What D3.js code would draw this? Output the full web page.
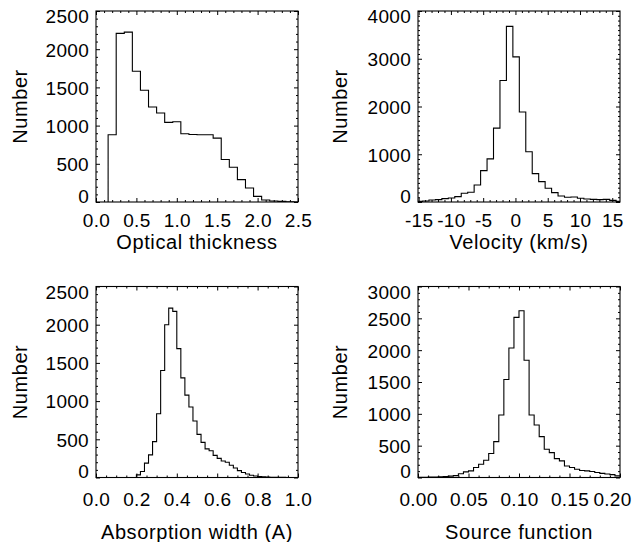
<!DOCTYPE html>
<html>
<head>
<meta charset="utf-8">
<script src="https://cdn.jsdelivr.net/npm/d3@7"></script>
<style>
body { margin: 0; background: #fff; }
svg text { font-family: "Liberation Sans", Arial, Helvetica, sans-serif; fill: #000; }
</style>
</head>
<body>
<svg id="chart" width="636" height="542"></svg>
<script>
// optical thickness, bins of 0.1 starting at 0.15
var tauStart = 0.15, tauBin = 0.1;
var tauCounts = [880, 2207, 2224, 1712, 1462, 1243, 1165, 1042, 1051, 893, 884, 880, 880, 836,
                 556, 455, 293, 184, 74, 26, 13, 8, 4, 0];
var tauXTicks = [0, 0.5, 1.0, 1.5, 2.0, 2.5];
var tauXLabels = ["0.0", "0.5", "1.0", "1.5", "2.0", "2.5"];
var tauYTicks = [0, 500, 1000, 1500, 2000, 2500];

// velocity, bins of 1 km/s starting at -15.4
var velStart = -15.4, velBin = 1;
var velCounts = [14, 21, 42, 49, 70, 84, 112, 182, 203, 357, 658, 904, 1548, 2543, 3678, 3040,
                 1884, 1051, 595, 427, 287, 196, 126, 98, 105, 77, 63, 56, 49, 56, 35, 14];
var velXTicks = [-15, -10, -5, 0, 5, 10, 15];
var velXLabels = ["-15", "-10", "-5", "0", "5", "10", "15"];
var velYTicks = [0, 1000, 2000, 3000, 4000];

// absorption width, bins of 0.02 starting at 0.0
var widStart = 0.0, widBin = 0.02;
var widCounts = [0, 0, 0, 0, 0, 0, 0, 0, 0, 0,
                 35, 78, 188, 296, 470, 835, 1400, 2000, 2217, 2174, 1687, 1304, 1078, 922, 740,
                 565, 460, 375, 350, 290, 250, 215, 200, 160, 125, 90, 65, 45, 30, 20,
                 12, 8, 5, 3, 2, 1, 1, 0, 0, 0];
var widXTicks = [0, 0.2, 0.4, 0.6, 0.8, 1.0];
var widXLabels = ["0.0", "0.2", "0.4", "0.6", "0.8", "1.0"];
var widYTicks = [0, 500, 1000, 1500, 2000, 2500];

// source function, bins of 0.005 starting at 0.0
var srcStart = 0.0, srcBin = 0.005;
var srcCounts = [4, 5, 6, 8, 12, 16, 22, 30, 60, 89, 104, 157, 209, 271, 376, 563, 981, 1539, 2035, 2515,
                 2619, 1842, 981, 824, 642, 443, 391, 297, 261, 180, 157, 130, 110, 104, 95, 78, 65, 55, 45, 25];
var srcXTicks = [0, 0.05, 0.10, 0.15, 0.20];
var srcXLabels = ["0.00", "0.05", "0.10", "0.15", "0.20"];
var srcYTicks = [0, 500, 1000, 1500, 2000, 2500, 3000];

var svg = d3.select("#chart");
var boxW = 202, boxH = 191;
var majorLen = 4, minorLen = 2;

var panels = [
    {left: 96, top: 11, xDomain: [0, 2.5], yDomain: [0, 2500], start: tauStart, bin: tauBin, counts: tauCounts,
     xTicks: tauXTicks, xLabels: tauXLabels, xMinor: 5, yTicks: tauYTicks, yMinor: 5, lastShift: 0,
     title: "Optical thickness", labelGap: 25, titleGap: 47, yTitleX: 20, id: "c1"},
    {left: 418, top: 11, xDomain: [-15.1, 16.2], yDomain: [0, 4000], start: velStart, bin: velBin, counts: velCounts,
     xTicks: velXTicks, xLabels: velXLabels, xMinor: 5, yTicks: velYTicks, yMinor: 10, lastShift: 0,
     title: "Velocity (km/s)", labelGap: 25, titleGap: 47, yTitleX: 340, id: "c2"},
    {left: 96, top: 286.5, xDomain: [0, 1.0], yDomain: [0, 2500], start: widStart, bin: widBin, counts: widCounts,
     xTicks: widXTicks, xLabels: widXLabels, xMinor: 4, yTicks: widYTicks, yMinor: 5, lastShift: 0,
     title: "Absorption width (A)", labelGap: 28, titleGap: 61, yTitleX: 20, id: "c3"},
    {left: 418, top: 286.5, xDomain: [0, 0.20], yDomain: [0, 3000], start: srcStart, bin: srcBin, counts: srcCounts,
     xTicks: srcXTicks, xLabels: srcXLabels, xMinor: 5, yTicks: srcYTicks, yMinor: 5, lastShift: -8,
     title: "Source function", labelGap: 28, titleGap: 61, yTitleX: 340, id: "c4"}
];

panels.forEach(drawPanel);

function minorValues(ticks, n) {
    var out = [];
    for (var i = 0; i < ticks.length - 1; i++) {
        var step = (ticks[i + 1] - ticks[i]) / n;
        for (var k = 1; k < n; k++) out.push(ticks[i] + k * step);
    }
    return out;
}

function drawPanel(p) {
    var g = svg.append("g")
        .attr("transform", "translate(" + p.left + "," + p.top + ")");

    var x = d3.scaleLinear().domain(p.xDomain).range([0, boxW]);
    var y = d3.scaleLinear().domain(p.yDomain).range([boxH, 0]);

    g.append("clipPath").attr("id", p.id)
        .append("rect").attr("width", boxW).attr("height", boxH);

    // histogram as a step line
    var pts = [[p.start, 0]];
    p.counts.forEach(function(c, i) { pts.push([p.start + i * p.bin, c]); });
    pts.push([p.start + p.counts.length * p.bin, p.counts[p.counts.length - 1]]);

    g.append("path")
        .datum(pts)
        .attr("clip-path", "url(#" + p.id + ")")
        .attr("fill", "none")
        .attr("stroke", "#000")
        .attr("stroke-width", 1.1)
        .attr("d", d3.line()
            .x(function(d) { return x(d[0]); })
            .y(function(d) { return y(d[1]); })
            .curve(d3.curveStepAfter));

    var xMinorTicks = minorValues(p.xTicks, p.xMinor);
    var yMinorTicks = minorValues(p.yTicks, p.yMinor);
    var nX = p.xTicks.length, nY = p.yTicks.length;

    // bottom axis with labels
    var bottom = g.append("g")
        .attr("transform", "translate(0," + boxH + ")")
        .call(d3.axisBottom(x).tickValues(p.xTicks).tickSizeInner(-majorLen).tickSizeOuter(0)
            .tickPadding(p.labelGap).tickFormat(function(d, i) { return p.xLabels[i]; }));
    bottom.selectAll(".tick text")
        .attr("dy", 0)
        .attr("font-size", 19)
        .attr("letter-spacing", 0.3)
        .attr("dx", function(d, i) { return i === nX - 1 ? p.lastShift : 0; });
    g.append("g")
        .attr("transform", "translate(0," + boxH + ")")
        .call(d3.axisBottom(x).tickValues(xMinorTicks).tickSizeInner(-minorLen).tickSizeOuter(0).tickFormat(""));

    // top axis, ticks only
    g.append("g")
        .call(d3.axisTop(x).tickValues(p.xTicks).tickSizeInner(-majorLen).tickSizeOuter(0).tickFormat(""));
    g.append("g")
        .call(d3.axisTop(x).tickValues(xMinorTicks).tickSizeInner(-minorLen).tickSizeOuter(0).tickFormat(""));

    // left axis with labels
    var left = g.append("g")
        .call(d3.axisLeft(y).tickValues(p.yTicks).tickSizeInner(-majorLen).tickSizeOuter(0)
            .tickPadding(7).tickFormat(d3.format("d")));
    left.selectAll(".tick text")
        .attr("font-size", 19)
        .attr("letter-spacing", 0.3)
        .attr("dy", function(d, i) {
            if (i === 0) return "-0.0em";
            if (i === nY - 1) return "0.62em";
            return "0.36em";
        });
    g.append("g")
        .call(d3.axisLeft(y).tickValues(yMinorTicks).tickSizeInner(-minorLen).tickSizeOuter(0).tickFormat(""));

    // right axis, ticks only
    g.append("g")
        .attr("transform", "translate(" + boxW + ",0)")
        .call(d3.axisRight(y).tickValues(p.yTicks).tickSizeInner(-majorLen).tickSizeOuter(0).tickFormat(""));
    g.append("g")
        .attr("transform", "translate(" + boxW + ",0)")
        .call(d3.axisRight(y).tickValues(yMinorTicks).tickSizeInner(-minorLen).tickSizeOuter(0).tickFormat(""));

    g.selectAll(".domain").remove();
    g.selectAll(".tick line").attr("stroke", "#000");

    // frame
    g.append("rect")
        .attr("width", boxW)
        .attr("height", boxH)
        .attr("fill", "none")
        .attr("stroke", "#000")
        .attr("stroke-width", 1.1);

    // axis titles
    g.append("text")
        .attr("x", boxW / 2)
        .attr("y", boxH + p.titleGap)
        .attr("text-anchor", "middle")
        .attr("font-size", 20)
        .attr("letter-spacing", 0.6)
        .text(p.title);

    svg.append("text")
        .attr("transform", "translate(" + p.yTitleX + "," + (p.top + boxH / 2) + ") rotate(-90)")
        .attr("text-anchor", "middle")
        .attr("dy", "0.35em")
        .attr("font-size", 20)
        .attr("letter-spacing", 0.6)
        .text("Number");
}
</script>
</body>
</html>
